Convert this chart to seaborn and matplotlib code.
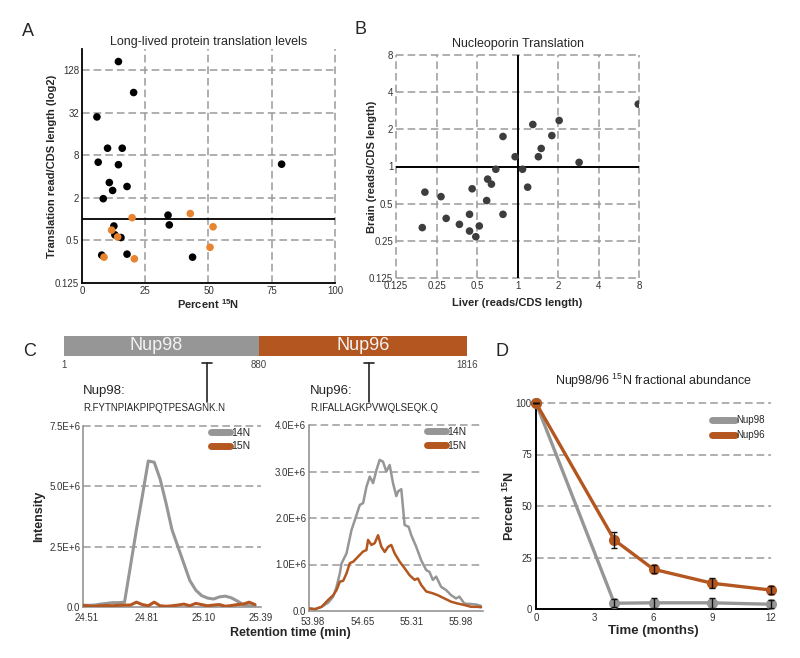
import numpy as np
import pandas as pd
import matplotlib
matplotlib.use('Agg')
import matplotlib.pyplot as plt
import seaborn as sns
from matplotlib.lines import Line2D

sns.set_style('white')
plt.rcParams['font.family'] = ['Liberation Sans', 'DejaVu Sans']
plt.rcParams['mathtext.fontset'] = 'custom'
plt.rcParams['mathtext.rm'] = 'Liberation Sans'
plt.rcParams['mathtext.bf'] = 'Liberation Sans:bold'
plt.rcParams['mathtext.default'] = 'regular'

GRAY = '#969696'
BROWN = '#b3561f'
ORANGE = '#e8832f'
GRID = '#9a9a9a'
TXT = '#333333'
DASH = (0, (5, 2.6))

# Panel A: percent 15N vs translation level
a_black_pct = [14.4, 20.4, 5.9, 10.1, 15.9, 6.4, 14.4, 10.8, 17.8, 12.1, 8.4,
               34.0, 34.5, 12.6, 13.0, 15.4, 7.8, 17.8, 43.7, 78.9]
a_black_tr = [170, 62, 28, 10.1, 10.1, 6.4, 5.9, 3.3, 2.9, 2.55, 1.95,
              1.14, 0.83, 0.8, 0.6, 0.55, 0.31, 0.32, 0.29, 6.0]
a_orange_pct = [19.8, 42.8, 51.8, 11.7, 14.1, 50.6, 8.7, 20.7]
a_orange_tr = [1.05, 1.2, 0.78, 0.7, 0.56, 0.40, 0.29, 0.275]

# Panel B: liver vs brain
b_liver = [0.205, 0.196, 0.27, 0.295, 0.37, 0.44, 0.44, 0.49, 0.52, 0.46, 0.59, 0.60, 0.64,
           0.69, 0.78, 0.78, 0.96, 1.09, 1.19, 1.30, 1.43, 1.5, 1.8, 2.04, 2.87, 7.9]
b_brain = [0.62, 0.32, 0.57, 0.38, 0.34, 0.41, 0.30, 0.27, 0.33, 0.66, 0.53, 0.79, 0.72,
           0.95, 0.41, 1.75, 1.2, 0.95, 0.68, 2.19, 1.2, 1.4, 1.78, 2.36, 1.08, 3.2]
log_ticks_b = [0.125, 0.25, 0.5, 1, 2, 4, 8]

# Panel C: protein bar and XIC traces
bar_names = ['Nup98', 'Nup96']
bar_start = [1, 880]
bar_end = [880, 1816]
pep_pos = [645, 1375]
pep_names = ['Nup98:', 'Nup96:']
pep_seqs = ['R.FYTNPIAKPIPQTPESAGNK.N', 'R.IFALLAGKPVWQLSEQK.Q']

c1_time = [24.49, 24.52, 24.55, 24.58, 24.61, 24.64, 24.67, 24.70, 24.73, 24.76,
           24.79, 24.82, 24.85, 24.88, 24.91, 24.94, 24.97, 25.00, 25.03, 25.06,
           25.09, 25.12, 25.15, 25.18, 25.21, 25.24, 25.27, 25.30, 25.33, 25.36]
c1_14n = [0.07, 0.07, 0.08, 0.12, 0.15, 0.18, 0.18, 0.2, 1.7, 3.2,
          4.6, 6.05, 6.0, 5.3, 4.3, 3.2, 2.5, 1.8, 1.1, 0.7,
          0.47, 0.37, 0.33, 0.42, 0.45, 0.38, 0.25, 0.1, 0.05, 0.04]
c1_15n = [0.07, 0.04, 0.03, 0.05, 0.06, 0.05, 0.07, 0.08, 0.08, 0.2,
          0.1, 0.05, 0.2, 0.05, 0.03, 0.05, 0.08, 0.12, 0.05, 0.15,
          0.1, 0.05, 0.08, 0.1, 0.03, 0.06, 0.1, 0.12, 0.2, 0.1]

c2_time_14n = [53.894, 54.007, 54.096, 54.186, 54.253, 54.298, 54.343, 54.365, 54.433,
               54.500, 54.567, 54.612, 54.657, 54.702, 54.747, 54.792, 54.837, 54.881,
               54.926, 54.971, 55.016, 55.061, 55.106, 55.128, 55.173, 55.218, 55.272,
               55.308, 55.375, 55.442, 55.510, 55.554, 55.599, 55.644, 55.711, 55.779,
               55.846, 55.913, 55.958, 56.025, 56.115, 56.182, 56.250]
c2_14n = [0.06, 0.04, 0.09, 0.18, 0.31, 0.52, 0.81, 1.02, 1.24,
          1.74, 2.06, 2.28, 2.32, 2.67, 2.89, 2.75, 3.03, 3.25,
          3.21, 3.0, 3.14, 2.75, 2.47, 2.57, 2.62, 1.85, 1.81,
          1.63, 1.38, 1.09, 0.88, 0.84, 0.67, 0.74, 0.52, 0.45,
          0.34, 0.27, 0.31, 0.16, 0.15, 0.14, 0.11]
c2_time_15n = [53.894, 54.007, 54.096, 54.186, 54.253, 54.298, 54.343, 54.388, 54.433,
               54.478, 54.523, 54.590, 54.657, 54.702, 54.724, 54.769, 54.814, 54.859,
               54.904, 54.949, 54.994, 55.038, 55.083, 55.151, 55.218, 55.285, 55.353,
               55.397, 55.442, 55.510, 55.599, 55.666, 55.756, 55.846, 55.936, 56.025,
               56.115, 56.205, 56.250]
c2_15n = [0.06, 0.04, 0.09, 0.24, 0.34, 0.45, 0.63, 0.65, 0.81,
          1.03, 1.06, 1.17, 1.28, 1.31, 1.53, 1.42, 1.46, 1.63,
          1.38, 1.27, 1.38, 1.42, 1.24, 1.06, 0.92, 0.77, 0.67,
          0.70, 0.56, 0.42, 0.38, 0.34, 0.27, 0.20, 0.16, 0.13,
          0.09, 0.09, 0.08]

# Panel D: fractional abundance over time
d_months = [0, 4, 6, 9, 12]
d_nup98 = [100, 2.8, 3, 3, 2.3]
d_nup98_err = [0, 2, 2.5, 2.5, 2]
d_nup96 = [100, 33.5, 19.3, 12.5, 9.2]
d_nup96_err = [0, 4, 2, 2.5, 2]

fig = plt.figure(figsize=(8, 6.58), dpi=100)


def add_ax(l, t, r, b):
    return fig.add_axes([l / 800, 1 - b / 658, (r - l) / 800, (b - t) / 658])


def hgrid(ax, ys):
    for y in ys:
        ax.axhline(y, color=GRID, lw=1.1, ls=DASH, zorder=0, clip_on=False)


def vgrid(ax, xs):
    for x in xs:
        ax.axvline(x, color=GRID, lw=1.1, ls=DASH, zorder=0, clip_on=False)


# ---------- A
ax = add_ax(82, 49, 335, 283)
dfa = pd.DataFrame({'pct': a_black_pct + a_orange_pct,
                    'tr': a_black_tr + a_orange_tr,
                    'grp': ['k'] * len(a_black_pct) + ['o'] * len(a_orange_pct)})
sns.scatterplot(data=dfa, x='pct', y='tr', hue='grp', palette={'k': 'black', 'o': ORANGE},
                s=30, edgecolor='none', legend=False, ax=ax, zorder=3)
ax.set_yscale('log', base=2)
ax.set_ylim(0.125, 256)
ax.set_xlim(0, 100)
ax.set_xticks([0, 25, 50, 75, 100])
ax.set_yticks([0.125, 0.5, 2, 8, 32, 128])
ax.set_yticklabels(['0.125', '0.5', '2', '8', '32', '128'])
ax.minorticks_off()
vgrid(ax, [25, 50, 75, 100])
hgrid(ax, [0.5, 2, 8, 32, 128])
ax.axhline(1, color='black', lw=1.3, zorder=2)
for s in ['top', 'right']:
    ax.spines[s].set_visible(False)
for s in ['left', 'bottom']:
    ax.spines[s].set_color('black')
    ax.spines[s].set_linewidth(1.3)
ax.tick_params(length=0, pad=2, labelsize=7, labelcolor=TXT)
ax.set_title('Long-lived protein translation levels', fontsize=9, pad=3)
ax.set_xlabel(r'Percent $\mathbf{^{15}}$N', fontsize=8, fontweight='bold', labelpad=1)
ax.set_ylabel('Translation read/CDS length (log2)', fontsize=8, fontweight='bold')
ax.yaxis.set_label_coords(-0.1, 0.5)

# ---------- B
ax = add_ax(396, 55, 639, 278)
dfb = pd.DataFrame({'liver': b_liver, 'brain': b_brain})
sns.scatterplot(data=dfb, x='liver', y='brain', color='#3d3d3d', s=30, edgecolor='none',
                ax=ax, zorder=3)
ax.set_xscale('log', base=2)
ax.set_yscale('log', base=2)
ax.set_xlim(0.125, 8)
ax.set_ylim(0.125, 8)
ax.set_xticks(log_ticks_b)
ax.set_yticks(log_ticks_b)
lbl = ['0.125', '0.25', '0.5', '1', '2', '4', '8']
ax.set_xticklabels(lbl)
ax.set_yticklabels(lbl)
ax.minorticks_off()
vgrid(ax, [t for t in log_ticks_b if t != 1])
hgrid(ax, [t for t in log_ticks_b if t != 1])
ax.axhline(1, color='black', lw=1.4, zorder=2)
ax.axvline(1, color='black', lw=1.4, zorder=2)
for s in ax.spines.values():
    s.set_visible(False)
ax.tick_params(length=0, pad=2, labelsize=7, labelcolor=TXT)
ax.set_title('Nucleoporin Translation', fontsize=9, pad=6)
ax.set_xlabel('Liver (reads/CDS length)', fontsize=8, fontweight='bold', labelpad=5)
ax.set_ylabel('Brain (reads/CDS length)', fontsize=8, fontweight='bold')
ax.yaxis.set_label_coords(-0.078, 0.5)

# ---------- C protein bar
ax = add_ax(64, 330, 467, 415)
ax.set_xlim(1, 1816)
ax.set_ylim(415, 330)
ax.axis('off')
for name, st, en, col in zip(bar_names, bar_start, bar_end, [GRAY, BROWN]):
    ax.barh(346, en - st, left=st, height=20, color=col, edgecolor='none')
    ax.text((st + en) / 2 - (25 if name == 'Nup98' else 0), 346, name, color='#f2f2f2',
            fontsize=13, ha='center', va='center')
for v in [1, 880, 1816]:
    ax.text(v, 365, str(v), fontsize=7, color='#444444', ha='center', va='center')
for p, nm, seq, tx in zip(pep_pos, pep_names, pep_seqs, [87, 1110]):
    ax.plot([p, p], [363, 402], color='#222222', lw=1.2)
    ax.plot([p - 24, p + 24], [363, 363], color='#222222', lw=1.2)
    ax.text(tx, 397, nm, fontsize=9.5, ha='left', va='bottom', clip_on=False)
    ax.text(tx, 408, seq, fontsize=7, ha='left', va='center', clip_on=False)

# ---------- C chromatograms
def chrom(ax, t14, y14, t15, y15, ymax, yt, ylabels, xt, xlabels, xlim, lw, leg_x):
    d14 = pd.DataFrame({'t': t14, 'y': np.array(y14) * 1e6})
    d15 = pd.DataFrame({'t': t15, 'y': np.array(y15) * 1e6})
    sns.lineplot(data=d14, x='t', y='y', color=GRAY, lw=lw, sort=False, ax=ax, zorder=3)
    sns.lineplot(data=d15, x='t', y='y', color=BROWN, lw=lw, sort=False, ax=ax, zorder=4)
    ax.set_xlim(*xlim)
    ax.set_ylim(0, ymax)
    ax.set_yticks(yt)
    ax.set_yticklabels(ylabels)
    ax.set_xticks(xt)
    ax.set_xticklabels(xlabels)
    hgrid(ax, yt[1:])
    for s in ['top', 'right']:
        ax.spines[s].set_visible(False)
    for s in ['left', 'bottom']:
        ax.spines[s].set_color('#8c8c8c')
        ax.spines[s].set_linewidth(1.1)
    ax.tick_params(length=0, pad=2, labelsize=7, labelcolor=TXT)
    ax.tick_params(axis='x', pad=4)
    ax.set_xlabel('')
    ax.set_ylabel('')
    handles = [Line2D([], [], color=GRAY, lw=5, solid_capstyle='round'),
               Line2D([], [], color=BROWN, lw=5, solid_capstyle='round')]
    ax.legend(handles, ['14N', '15N'], loc='upper left', bbox_to_anchor=(leg_x, 0.99),
              frameon=False, fontsize=7.5, handlelength=1.8, handletextpad=0.15,
              borderpad=0, borderaxespad=0, labelspacing=0.35)


ax1 = add_ax(83, 426, 261, 607)
chrom(ax1, c1_time, c1_14n, c1_time, c1_15n, 7.5e6,
      [0, 2.5e6, 5e6, 7.5e6], ['0.0', '2.5E+6', '5.0E+6', '7.5E+6'],
      [24.51, 24.81, 25.10, 25.39], ['24.51', '24.81', '25.10', '25.39'],
      (24.49, 25.39), 2.2, 0.72)
ax1.set_ylabel('Intensity', fontsize=9, fontweight='bold')
ax1.yaxis.set_label_coords(-0.215, 0.5)

ax2 = add_ax(309, 425, 483, 611)
chrom(ax2, c2_time_14n, c2_14n, c2_time_15n, c2_15n, 4e6,
      [0, 1e6, 2e6, 3e6, 4e6], ['0.0', '1.0E+6', '2.0E+6', '3.0E+6', '4.0E+6'],
      [53.98, 54.65, 55.31, 55.98], ['53.98', '54.65', '55.31', '55.98'],
      (53.926, 56.277), 1.8, 0.68)
fig.text(290 / 800, 1 - 633 / 658, 'Retention time (min)', fontsize=9, fontweight='bold',
         ha='center', va='center')

# ---------- D
ax = add_ax(536, 403, 771, 609)
dfd = pd.DataFrame({'month': d_months * 2,
                    'pct': d_nup98 + d_nup96,
                    'prot': ['Nup98'] * 5 + ['Nup96'] * 5})
sns.lineplot(data=dfd, x='month', y='pct', hue='prot', palette={'Nup98': GRAY, 'Nup96': BROWN},
             lw=2.4, marker='o', markersize=8, markeredgewidth=0, legend=False, ax=ax,
             zorder=3, clip_on=False)
ax.errorbar(d_months, d_nup98, yerr=d_nup98_err, fmt='none', ecolor='#111111', elinewidth=1,
            capsize=2, zorder=4, clip_on=False)
ax.errorbar(d_months, d_nup96, yerr=d_nup96_err, fmt='none', ecolor='#111111', elinewidth=1,
            capsize=2, zorder=4, clip_on=False)
ax.set_xlim(0, 12)
ax.set_ylim(0, 100)
ax.set_xticks([0, 3, 6, 9, 12])
ax.set_yticks([0, 25, 50, 75, 100])
hgrid(ax, [25, 50, 75, 100])
for s in ['top', 'right']:
    ax.spines[s].set_visible(False)
for s in ['left', 'bottom']:
    ax.spines[s].set_color('black')
    ax.spines[s].set_linewidth(1.4)
ax.tick_params(length=0, pad=3, labelsize=7, labelcolor=TXT)
ax.set_title(r'Nup98/96 $^{15}$N fractional abundance', fontsize=9, pad=13)
ax.set_xlabel('Time (months)', fontsize=9.5, fontweight='bold', labelpad=1)
ax.set_ylabel(r'Percent $\mathbf{^{15}}$N', fontsize=9, fontweight='bold')
ax.yaxis.set_label_coords(-0.08, 0.5)
handles = [Line2D([], [], color=GRAY, lw=5, solid_capstyle='round'),
           Line2D([], [], color=BROWN, lw=5, solid_capstyle='round')]
ax.legend(handles, ['Nup98', 'Nup96'], loc='upper left', bbox_to_anchor=(0.75, 0.94),
          frameon=False, fontsize=7, handlelength=2.3, handletextpad=0.15,
          borderpad=0, borderaxespad=0, labelspacing=0.5)

# panel letters
for letter, x, y in [('A', 28, 32), ('B', 360, 30), ('C', 30, 351), ('D', 502, 351)]:
    fig.text(x / 800, 1 - y / 658, letter, fontsize=13, ha='center', va='center')

fig.savefig('out.png', dpi=100)
